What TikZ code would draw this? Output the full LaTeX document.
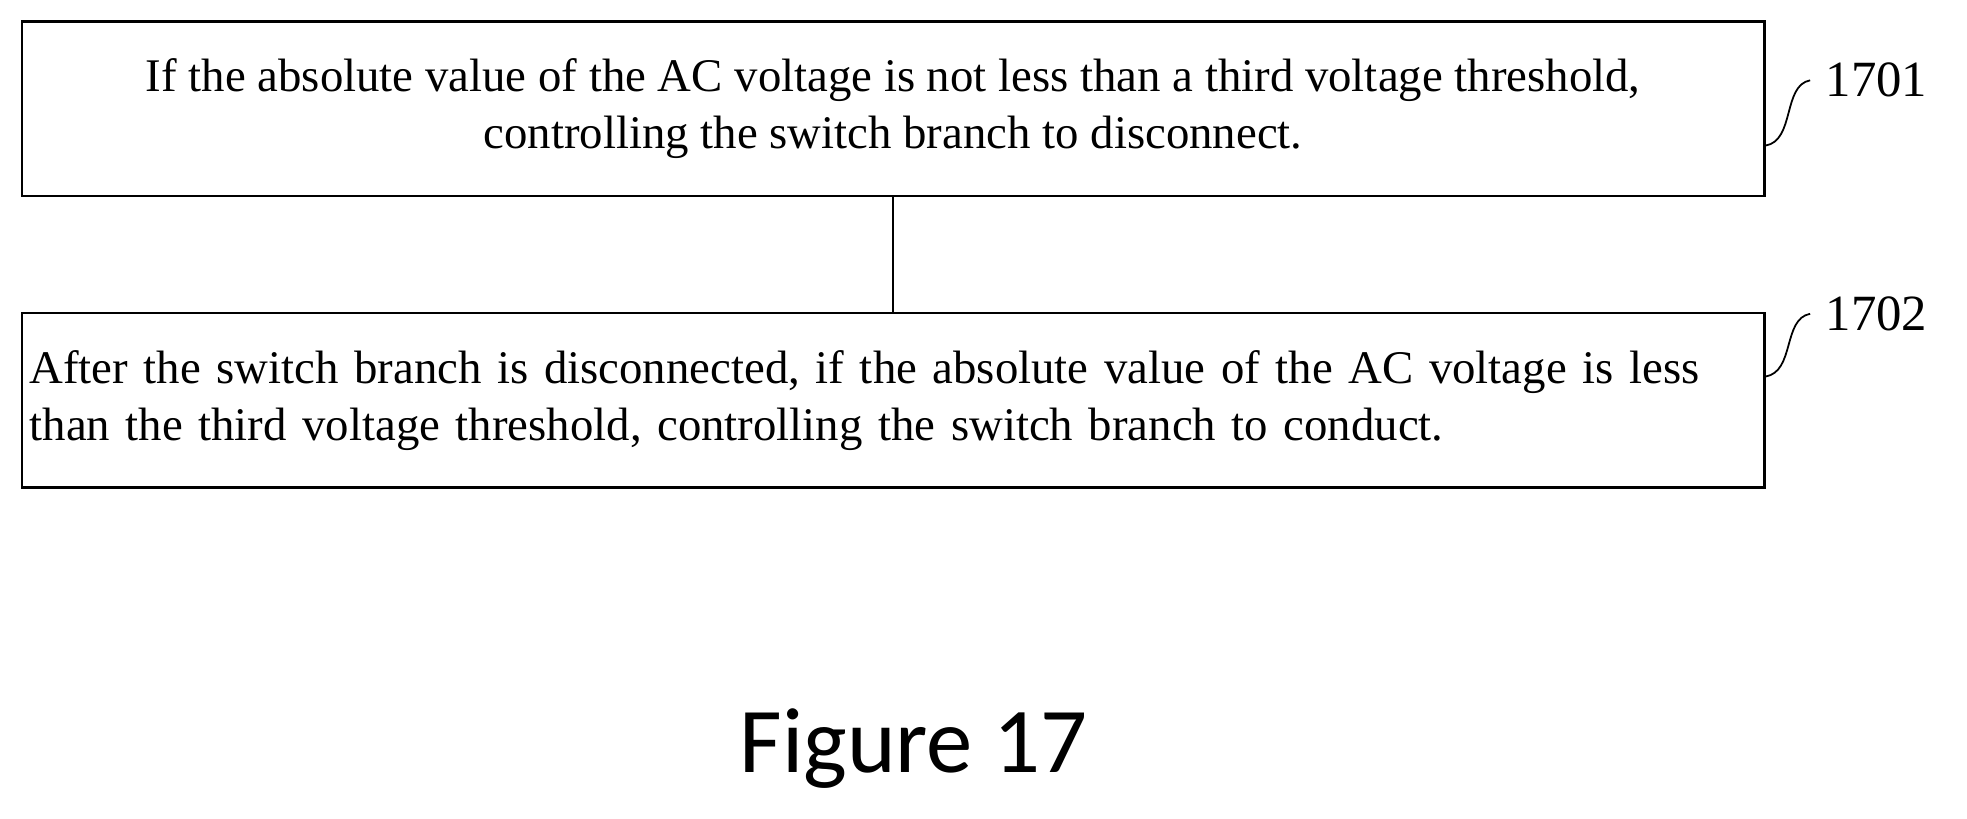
\documentclass[tikz,border=0pt]{standalone}
\usepackage{fontspec}
\setmainfont{Liberation Serif}
\newfontfamily\figfont{Carlito}
\begin{document}
\begin{tikzpicture}[x=0.01cm,y=-0.01cm,
  stepbox/.style={draw=black,line width=0.6pt,minimum width=13.87cm,minimum height=1.39cm,inner sep=0pt,font=\fontsize{10.6}{12.8}\selectfont},
  steplabel/.style={font=\fontsize{11.5}{13}\selectfont,anchor=west}]
            \useasboundingbox (0,0) rectangle (1567,652);
            \node[stepbox,align=center] (1) at (711.5,86.5) {If the absolute value of the AC voltage is not less than a third voltage threshold,\\controlling the switch branch to disconnect.};
            \node[stepbox,align=left,text width=13.75cm] (2) at (711.5,319) {After the switch branch is disconnected, if the absolute value of the AC voltage is less\\than the third voltage threshold, controlling the switch branch to conduct.};
            \node[steplabel] (l1) at (1442,64) {1701};
            \node[steplabel] (l2) at (1442,250) {1702};
            \node[font=\figfont\fontsize{21}{24}\selectfont] (fig) at (728,596) {Figure 17};

            %Archi

            \draw[-] (1) -- (2);
            \draw[-] (1.east |- 0,116) .. controls (1430,112) and (1420,68) .. (l1.west);
            \draw[-] (2.east |- 0,300) .. controls (1430,296) and (1420,254) .. (l2.west);
        \end{tikzpicture}
\end{document}
